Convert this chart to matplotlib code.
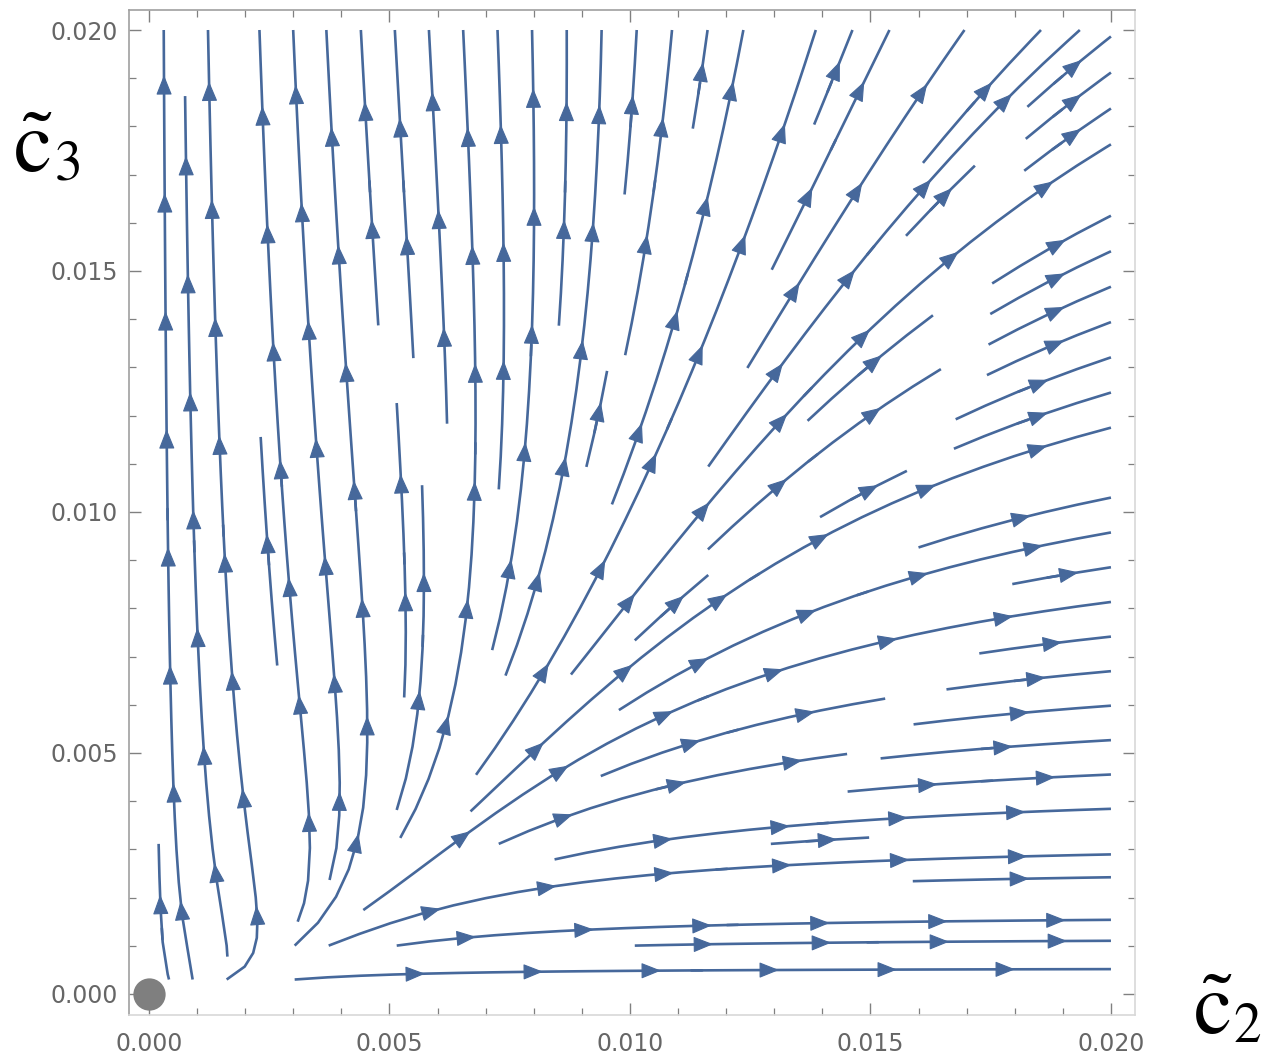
import numpy as np
import matplotlib
matplotlib.use("Agg")
import matplotlib.pyplot as plt
from matplotlib.patches import FancyArrowPatch
from matplotlib.ticker import MultipleLocator, FixedLocator

# ---- data: vector field of the flow (c2, c3) ----
c2_range = [0.0002, 0.02]
c3_range = [0.0003, 0.02]
coef_A = 0.047     # linear part of c2 nullcline
coef_B = 253.0     # quadratic part of c2 nullcline
coef_C = 3.0       # c3^2 growth of c3
coef_D = 0.25      # c2*c3 growth of c3
fixed_point = [0.0, 0.0]
major_ticks = [0.000, 0.005, 0.010, 0.015, 0.020]
tick_labels = ["0.000", "0.005", "0.010", "0.015", "0.020"]

W, H = 1264, 1054
fig = plt.figure(figsize=(W / 100, H / 100), dpi=100)
ax = fig.add_axes([129 / W, 1 - 1015 / H, (1135 - 129) / W, (1015 - 10) / H])

n = 240
x = np.linspace(c2_range[0], c2_range[1], n)
y = np.linspace(c3_range[0], c3_range[1], n)
X, Y = np.meshgrid(x, y)
U = X * (coef_A * X + coef_B * X ** 2 - Y)
V = Y * (coef_C * Y + coef_D * X)

col = "#46689b"
kw = dict(density=0.97, color=col, linewidth=1.9, arrowstyle="-", minlength=0.1)
sp = ax.streamplot(x, y, U, V, **kw)

ax.set_xlim(-0.000416, 0.0205)
ax.set_ylim(-0.000436, 0.020415)

fig.canvas.draw()
trans = ax.transData
spacing = 118.0
for seg in sp.lines.get_segments():
    if len(seg) < 3:
        continue
    pix = trans.transform(seg)
    d = np.hypot(np.diff(pix[:, 0]), np.diff(pix[:, 1]))
    s = np.concatenate([[0], np.cumsum(d)])
    L = s[-1]
    if L < 40:
        continue
    mid = len(seg) // 2
    xm, ym = seg[mid]
    um = xm * (coef_A * xm + coef_B * xm ** 2 - ym)
    vm = ym * (coef_C * ym + coef_D * xm)
    tang = seg[min(mid + 1, len(seg) - 1)] - seg[max(mid - 1, 0)]
    sign = 1.0 if (tang[0] * um + tang[1] * vm) >= 0 else -1.0
    k = max(1, int(L // spacing))
    offs = (L - (k - 1) * spacing) / 2.0 + 20 if k > 1 else L / 2 + 20
    for j in range(k):
        sa = offs + j * spacing
        if sa > L - 2:
            sa = L - 2
        sb = sa - 15 * sign
        pa = np.array([np.interp(sa, s, pix[:, 0]), np.interp(sa, s, pix[:, 1])])
        pb = np.array([np.interp(sb, s, pix[:, 0]), np.interp(sb, s, pix[:, 1])])
        da = trans.inverted().transform(pa)
        db = trans.inverted().transform(pb)
        arr = FancyArrowPatch(db, da, arrowstyle="-|>,head_length=1.25,head_width=0.5",
                              mutation_scale=10, color=col, lw=0.8, zorder=3)
        ax.add_patch(arr)

ax.scatter([fixed_point[0]], [fixed_point[1]], s=540, color="#7f7f7f", zorder=4,
           clip_on=False, linewidths=0)

ax.xaxis.set_major_locator(FixedLocator(major_ticks))
ax.yaxis.set_major_locator(FixedLocator(major_ticks))
ax.set_xticklabels(tick_labels)
ax.set_yticklabels(tick_labels)
ax.xaxis.set_minor_locator(MultipleLocator(0.001))
ax.yaxis.set_minor_locator(MultipleLocator(0.001))
ax.tick_params(which="both", direction="in", top=True, right=True, color="#808080",
               labelcolor="#666666", labelsize=17)
ax.tick_params(which="major", length=8.5, width=1.0)
ax.tick_params(which="minor", length=5, width=0.9)
ax.tick_params(axis="y", pad=8)
ax.tick_params(axis="x", pad=12)
for side in ["left", "top"]:
    ax.spines[side].set_color("#a0a0a0")
for side in ["bottom", "right"]:
    ax.spines[side].set_color("#d8d8d8")
for sp_ in ax.spines.values():
    sp_.set_linewidth(1.2)

plt.rcParams["mathtext.fontset"] = "stix"
fig.text(13 / W, 1 - 172 / H, r"$\tilde{\mathrm{c}}$", fontsize=62, ha="left", va="baseline")
fig.text(55 / W, 1 - 180 / H, "3", fontsize=40, family="STIXGeneral", ha="left", va="baseline")
fig.text(1193 / W, 1 - 1034 / H, r"$\tilde{\mathrm{c}}$", fontsize=62, ha="left", va="baseline")
fig.text(1233 / W, 1 - 1042 / H, "2", fontsize=40, family="STIXGeneral", ha="left", va="baseline")

fig.savefig("out.png", dpi=100)
